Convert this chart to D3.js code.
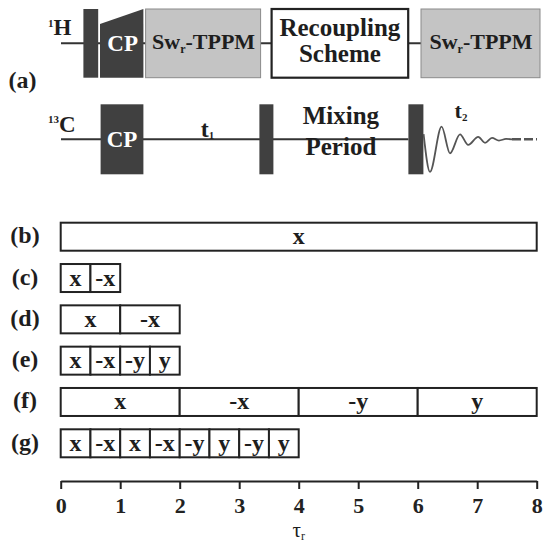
<!DOCTYPE html>
<html><head><meta charset="utf-8">
<script src="https://cdn.jsdelivr.net/npm/d3@7"></script>
<style>
body{margin:0;background:#fff}
svg{display:block}
text{font-family:"Liberation Serif","Times New Roman",serif;font-weight:bold;fill:#1e1e1e}
</style>
</head><body>
<svg id="fig" width="545" height="543"></svg>
<script>
// ---- (a) pulse sequence: times in sequence units, amplitudes in -1..1 ----
const hPulse = [11.2, 18.6];                       // 1H 90° pulse
const hRamp = [19.5, 41.2];                        // 1H ramped CP
const hRampStart = 0.56;                           // relative height at ramp start
const hDecoupling = [[42.3, 100.3], [180, 240]];   // Sw_r-TPPM blocks
const hRecoupling = [105.3, 173.6];                // recoupling block
const recouplingLines = ["Recoupling", "Scheme"];
const cPulses = [[19.8, 41.2], [99.2, 106.2], [173.7, 181.2]]; // 13C CP and two 90° pulses
const mixingLines = ["Mixing", "Period"];
const fidTime = [181.3, 184.5, 190.3, 194.5, 199.5, 203.6, 208.6, 212.0, 215.5, 219.0, 222.5, 225.5];
const fidAmp  = [0.15, -0.93, 0.36, -0.40, 0.14, -0.16, 0.07, -0.10, 0.04, -0.035, 0.01, 0];
const fidEnd = 238;

// ---- (b)-(g) phase schemes: durations in rotor periods ----
const rowLabels = ["(b)", "(c)", "(d)", "(e)", "(f)", "(g)"];
const rowPhases = [
  ["x"],
  ["x", "-x"],
  ["x", "-x"],
  ["x", "-x", "-y", "y"],
  ["x", "-x", "-y", "y"],
  ["x", "-x", "x", "-x", "-y", "y", "-y", "y"]
];
const rowStep = [8, 0.5, 1, 0.5, 2, 0.5];
const tauTicks = [0, 1, 2, 3, 4, 5, 6, 7, 8];

const svg = d3.select("#fig");
const dark = "#404040", ink = "#222";

const seqX = d3.scaleLinear().domain([0, 240]).range([61, 541]);
const hY = d3.scaleLinear().domain([-1, 1]).range([77.7, 9]);
const cY = d3.scaleLinear().domain([-1, 1]).range([174.3, 104.3]);

const seqG = svg.append("g");

// channel lines
seqG.append("line").attr("x1", seqX(0)).attr("x2", seqX(hDecoupling[1][0]))
  .attr("y1", hY(0)).attr("y2", hY(0)).attr("stroke", "#333").attr("stroke-width", 2);
seqG.append("line").attr("x1", seqX(0)).attr("x2", seqX(cPulses[2][0]))
  .attr("y1", cY(0)).attr("y2", cY(0)).attr("stroke", "#333").attr("stroke-width", 2);

// 1H pulse
seqG.append("rect").attr("x", seqX(hPulse[0])).attr("width", seqX(hPulse[1]) - seqX(hPulse[0]))
  .attr("y", hY(1)).attr("height", hY(-1) - hY(1)).attr("fill", dark);

// 1H ramped CP
const rampPts = [[hRamp[0], -1], [hRamp[0], hRampStart], [hRamp[1], 1], [hRamp[1], -1]];
seqG.append("polygon").attr("points", rampPts.map(p => [seqX(p[0]), hY(p[1])].join(",")).join(" "))
  .attr("fill", dark);
seqG.append("text").attr("x", seqX((hRamp[0] + hRamp[1]) / 2) + 1).attr("y", hY(0) + 7.5)
  .attr("text-anchor", "middle").attr("font-size", 23).style("fill", "#fff").text("CP");

// decoupling blocks
hDecoupling.forEach(d => {
  seqG.append("rect").attr("x", seqX(d[0])).attr("width", seqX(d[1]) - seqX(d[0]) - 1)
    .attr("y", hY(1)).attr("height", hY(-1) - hY(1))
    .attr("fill", "#c4c4c4").attr("stroke", "#8a8a8a").attr("stroke-width", 1);
  const t = seqG.append("text").attr("x", seqX((d[0] + d[1]) / 2)).attr("y", hY(0) + 5.5)
    .attr("text-anchor", "middle").attr("font-size", 22);
  t.append("tspan").text("Sw");
  t.append("tspan").attr("font-size", 12).attr("dy", 4).text("r");
  t.append("tspan").attr("dy", -4).text("-TPPM");
});

// recoupling block
seqG.append("rect").attr("x", seqX(hRecoupling[0])).attr("width", seqX(hRecoupling[1]) - seqX(hRecoupling[0]))
  .attr("y", hY(1)).attr("height", hY(-1) - hY(1))
  .attr("fill", "#fff").attr("stroke", ink).attr("stroke-width", 2.2);
recouplingLines.forEach((s, i) => {
  seqG.append("text").attr("x", seqX((hRecoupling[0] + hRecoupling[1]) / 2)).attr("y", hY(0) - 7 + i * 26)
    .attr("text-anchor", "middle").attr("font-size", 25).text(s);
});

// 13C pulses
cPulses.forEach((d, i) => {
  seqG.append("rect").attr("x", seqX(d[0])).attr("width", seqX(d[1]) - seqX(d[0]))
    .attr("y", cY(1)).attr("height", cY(-1) - cY(1)).attr("fill", dark);
  if (i === 0) {
    seqG.append("text").attr("x", seqX((d[0] + d[1]) / 2)).attr("y", cY(0) + 7.5)
      .attr("text-anchor", "middle").attr("font-size", 23).style("fill", "#fff").text("CP");
  }
});

// evolution and mixing labels
const t1 = seqG.append("text").attr("x", seqX((cPulses[0][1] + cPulses[1][0]) / 2) + 6).attr("y", cY(0) - 2)
  .attr("text-anchor", "middle").attr("font-size", 24);
t1.append("tspan").text("t");
t1.append("tspan").attr("font-size", 11).attr("dy", 2).text("1");
mixingLines.forEach((s, i) => {
  seqG.append("text").attr("x", seqX((cPulses[1][1] + cPulses[2][0]) / 2)).attr("y", cY(0) - 15.5 + i * 31.5)
    .attr("text-anchor", "middle").attr("font-size", 25).text(s);
});

// FID
const fid = fidTime.map((t, i) => [t, fidAmp[i]]);
seqG.append("path").attr("d", d3.line().x(d => seqX(d[0])).y(d => cY(d[1])).curve(d3.curveMonotoneX)(fid))
  .attr("fill", "none").attr("stroke", "#555").attr("stroke-width", 1.8);
seqG.append("line").attr("x1", seqX(fidTime[fidTime.length - 1])).attr("x2", seqX(fidEnd))
  .attr("y1", cY(0)).attr("y2", cY(0)).attr("stroke", "#555").attr("stroke-width", 2.6)
  .attr("stroke-dasharray", "9 3");
const t2 = seqG.append("text").attr("x", seqX(fidTime[0]) + 31).attr("y", cY(0) - 21)
  .attr("text-anchor", "start").attr("font-size", 22);
t2.append("tspan").text("t");
t2.append("tspan").attr("font-size", 11).attr("dy", 3).text("2");

// channel labels
const hLab = seqG.append("text").attr("x", 48).attr("y", 35).attr("font-size", 23);
hLab.append("tspan").attr("font-size", 11).attr("dy", -8).text("1");
hLab.append("tspan").attr("dy", 8).text("H");
const cLab = seqG.append("text").attr("x", 48).attr("y", 131.5).attr("font-size", 23);
cLab.append("tspan").attr("font-size", 11).attr("dy", -9).text("13");
cLab.append("tspan").attr("dy", 9).text("C");
seqG.append("text").attr("x", 22.5).attr("y", 88).attr("text-anchor", "middle").attr("font-size", 24).text("(a)");

// ---- phase scheme rows ----
const xTau = d3.scaleLinear().domain([0, 8]).range([60.7, 536.7]);
const rowY = d3.scalePoint().domain(rowLabels).range([236.7, 443.3]);
const rowH = 28;

rowLabels.forEach((lab, r) => {
  const cy = rowY(lab);
  svg.append("text").attr("x", 25).attr("y", cy + 6.5).attr("text-anchor", "middle")
    .attr("font-size", 24).text(lab);
  const g = svg.append("g");
  rowPhases[r].forEach((ph, k) => {
    const a = k * rowStep[r], b = (k + 1) * rowStep[r];
    g.append("rect").attr("x", xTau(a)).attr("width", xTau(b) - xTau(a))
      .attr("y", cy - rowH / 2).attr("height", rowH)
      .attr("fill", "#fff").attr("stroke", ink).attr("stroke-width", 2);
    g.append("text").attr("x", xTau((a + b) / 2)).attr("y", cy + 7.5)
      .attr("text-anchor", "middle").attr("font-size", 24).text(ph);
  });
});

// ---- rotor period axis ----
const ax = svg.append("g").attr("transform", "translate(0,481)")
  .call(d3.axisBottom(xTau).tickValues(tauTicks).tickFormat(d3.format("d"))
    .tickSize(8).tickSizeOuter(0).tickPadding(8));
ax.attr("font-family", null).attr("font-size", null);
ax.select(".domain").attr("stroke", ink).attr("stroke-width", 2);
ax.selectAll(".tick line").attr("stroke", ink).attr("stroke-width", 2);
ax.selectAll(".tick text")
  .attr("font-size", 22).attr("font-weight", "bold")
  .attr("font-family", "'Liberation Serif','Times New Roman',serif")
  .style("fill", ink);

const tau = svg.append("text").attr("x", xTau(4)).attr("y", 537).attr("text-anchor", "middle")
  .attr("font-size", 21).style("font-weight", "normal");
tau.append("tspan").text("τ");
tau.append("tspan").attr("font-size", 12).attr("dy", 3).text("r");
</script>
</body></html>
